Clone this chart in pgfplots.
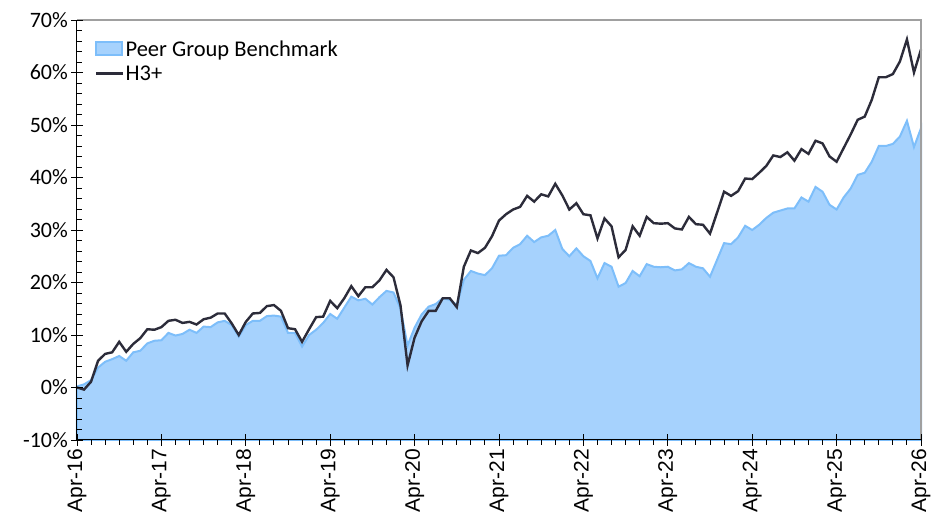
\documentclass[border=0pt]{standalone}
\usepackage{pgfplots}
\pgfplotsset{compat=1.18}
\usepackage{pgfplotstable}
\usepackage{fontspec}
\setmainfont{Carlito}
\newfontfamily\arialf{Liberation Sans}
\definecolor{peerfill}{RGB}{166,210,253}
\definecolor{peeredge}{RGB}{125,190,250}
\definecolor{hline}{RGB}{44,44,58}
\definecolor{boxgray}{RGB}{160,160,160}

\pgfplotstableread{
m h p
0 0.0 0.2
1 -0.4 0.6
2 1.1 1.4
3 5.1 3.8
4 6.4 4.9
5 6.7 5.4
6 8.7 6.0
7 6.8 5.1
8 8.3 6.7
9 9.4 7.0
10 11.1 8.4
11 11.0 8.9
12 11.5 9.0
13 12.7 10.4
14 12.9 9.9
15 12.3 10.2
16 12.5 11.0
17 12.0 10.4
18 13.0 11.6
19 13.3 11.5
20 14.1 12.4
21 14.1 12.7
22 12.2 11.9
23 10.0 9.7
24 12.5 11.9
25 14.1 12.7
26 14.2 12.7
27 15.5 13.6
28 15.7 13.7
29 14.6 13.5
30 11.3 10.4
31 11.1 10.4
32 8.7 7.8
33 11.1 10.0
34 13.4 11.0
35 13.5 12.3
36 16.5 14.0
37 15.1 13.1
38 17.0 15.2
39 19.3 17.3
40 17.4 16.6
41 19.1 16.9
42 19.1 15.8
43 20.4 17.2
44 22.4 18.4
45 21.0 18.1
46 15.6 15.0
47 4.2 8.0
48 9.5 11.4
49 12.6 13.9
50 14.6 15.4
51 14.6 15.9
52 17.0 17.0
53 17.0 16.7
54 15.3 15.7
55 23.0 20.5
56 26.1 22.2
57 25.6 21.7
58 26.6 21.4
59 28.8 22.7
60 31.8 25.1
61 33.0 25.2
62 33.9 26.6
63 34.4 27.3
64 36.5 28.9
65 35.4 27.7
66 36.8 28.6
67 36.4 28.9
68 38.8 30.0
69 36.6 26.4
70 33.9 25.0
71 35.1 26.5
72 33.0 25.0
73 32.8 24.1
74 28.4 20.8
75 32.2 23.7
76 30.7 23.0
77 24.8 19.2
78 26.2 19.9
79 30.7 22.2
80 28.9 21.2
81 32.5 23.5
82 31.3 23.0
83 31.2 22.9
84 31.3 23.0
85 30.3 22.3
86 30.1 22.5
87 32.5 23.7
88 31.1 23.0
89 31.0 22.7
90 29.3 21.1
91 33.3 24.3
92 37.3 27.5
93 36.5 27.3
94 37.4 28.6
95 39.8 30.8
96 39.7 30.0
97 40.9 31.0
98 42.2 32.3
99 44.2 33.3
100 43.9 33.7
101 44.8 34.1
102 43.2 34.1
103 45.4 36.2
104 44.5 35.4
105 47.0 38.2
106 46.5 37.3
107 44.0 34.8
108 43.0 33.9
109 45.6 36.2
110 48.2 37.9
111 51.0 40.5
112 51.6 40.9
113 54.8 43.0
114 59.1 46.0
115 59.1 46.0
116 59.7 46.4
117 62.1 47.8
118 66.3 50.8
119 60.0 45.8
120 64.4 49.4
}\datatable

\begin{document}
\begin{tikzpicture}
\begin{axis}[
  scale only axis,
  width=844pt, height=420pt,
  xmin=0, xmax=120, ymin=-10, ymax=70,
  axis lines*=left,
  axis on top=true,
  axis line style={-, black, line width=1pt},
  xtick={0,12,...,120},
  xticklabels={Apr-16,Apr-17,Apr-18,Apr-19,Apr-20,Apr-21,Apr-22,Apr-23,Apr-24,Apr-25,Apr-26},
  ytick={-10,0,...,70},
  yticklabels={-10\%,0\%,10\%,20\%,30\%,40\%,50\%,60\%,70\%},
  minor x tick num=5,
  minor y tick num=4,
  tick align=center,
  major tick length=12pt,
  minor tick length=5pt,
  tick style={black, line width=0.9pt},
  minor y tick style={xshift=2.5pt},
  minor x tick style={yshift=-2.5pt},
  yticklabel style={font=\fontsize{22}{24}\selectfont, inner sep=0pt, xshift=-3pt},
  xticklabel style={font=\arialf\fontsize{21}{24}\selectfont, rotate=90, anchor=east, inner sep=0pt, xshift=-3pt},
  legend style={at={(0.0213,0.954)}, anchor=north west, draw=none, fill=none, inner sep=0pt,
    font=\fontsize{22.5}{25}\selectfont, row sep=6pt, nodes={inner sep=1pt}},
  legend cell align=left,
  clip=false,
]
\addplot[fill=peerfill, draw=peeredge, line width=2pt,
  legend image code/.code={\draw[fill=peerfill, draw=peeredge, line width=2pt] (0pt,-6pt) rectangle (26pt,7pt);}]
  table[x=m, y=p] {\datatable} -- (axis cs:120,-10) -- (axis cs:0,-10) -- cycle;
\addlegendentry{Peer Group Benchmark}
\addplot[hline, line width=2.4pt,
  legend image code/.code={\draw[hline, line width=2.4pt] (0pt,0pt) -- (27pt,0pt);}]
  table[x=m, y=h] {\datatable};
\addlegendentry{H3+}
\draw[boxgray, line width=1.2pt] (rel axis cs:0,1) -- (rel axis cs:1,1) -- (rel axis cs:1,0);
\end{axis}
\path ([xshift=-77pt,yshift=-78pt]current axis.south west) rectangle ([xshift=10pt,yshift=20pt]current axis.north east);
\end{tikzpicture}
\end{document}
